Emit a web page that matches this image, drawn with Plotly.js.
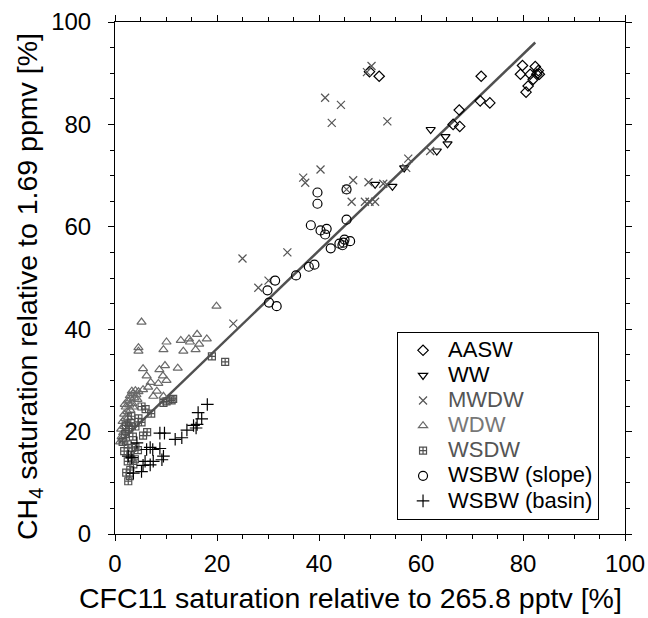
<!DOCTYPE html>
<html>
<head>
<meta charset="utf-8">
<script src="https://cdn.plot.ly/plotly-3.0.1.min.js"></script>
<style>
html,body{margin:0;padding:0;background:#fff;}
#chart{width:648px;height:618px;}
</style>
</head>
<body>
<div id="chart"></div>
<script>
// ---- data ----
var aaswX = [79.9,82.4,79.5,81.4,82.7,83.2,83.0,82.0,81.0,80.6,71.8,71.6,73.5,67.5,66.3,67.6,49.9,51.8];
var aaswY = [91.5,91.3,89.8,89.8,89.8,89.8,90.5,88.8,87.5,86.3,89.4,84.6,84.2,82.8,80.0,79.6,90.3,89.4];

var wwX = [61.9,64.8,65.2,63.1,56.7,54.4,51.0];
var wwY = [79.0,77.6,76.2,74.8,71.5,67.9,68.3];

var mwdwX = [50.3,49.4,41.2,44.3,42.5,53.4,40.3,36.9,37.3,46.7,49.7,57.5,57.1,61.8,52.6,53.3,46.4,49.0,49.9,51.0,45.4,25.0,33.8,30.1,28.1,23.2];
var mwdwY = [91.4,90.2,85.2,83.8,80.3,80.6,71.2,69.6,68.6,69.1,68.7,73.3,71.5,74.8,68.4,68.3,64.9,64.9,64.9,64.9,67.3,53.8,55.0,49.5,48.1,41.1];

var wdwX = [19.9,5.2,4.6,4.6,10.1,9.5,12.9,14.5,14.7,16.1,18.0,16.5,13.4,15.8,5.5,6.2,8.7,9.8,12.3,9.4,10.1,7.0,8.5,5.5,6.5,7.5,9.5,8.2,
            1.0,1.3,1.6,1.2,1.8,2.2,1.5,2.0,2.6,1.8,2.4,3.0,2.1,2.8,3.4,2.5,3.1,3.8,2.9,3.5,4.2,3.3,4.0,4.6,2.3,1.5,3.6,4.4,1.9,2.7];
var wdwY = [44.5,41.4,36.4,35.7,37.5,36.0,37.8,38.1,37.5,39.0,38.1,37.1,35.7,36.0,32.3,30.9,32.1,32.9,32.4,30.9,30.0,29.6,29.4,28.2,28.7,26.9,26.9,27.9,
            18.0,19.0,19.8,20.5,21.0,21.6,22.0,22.6,22.8,23.4,23.9,24.2,24.8,25.2,25.5,26.0,26.4,26.6,27.0,27.4,27.2,27.9,28.0,27.8,20.2,18.8,24.8,26.3,25.3,21.4];

var wsdwX = [19.0,21.6,11.4,9.5,10.1,11.1,7.1,6.0,6.3,5.2,3.1,2.6,2.9,5.2,
             2.0,3.5,2.5,4.0,1.8,3.0,2.5,3.6,3.0,4.5,5.5,3.2,4.0,1.5,2.8,3.9,2.2,4.6,3.4,2.1];
var wsdwY = [34.7,33.6,26.4,25.6,25.9,26.1,23.5,24.4,19.9,21.8,21.7,10.3,11.3,24.9,
             19.5,19.0,17.5,17.0,16.2,15.5,14.2,13.6,12.5,16.4,19.2,23.0,21.0,18.0,20.6,14.6,12.0,22.6,16.8,21.2];

var slopeX = [39.7,39.7,45.4,45.4,38.4,40.3,41.5,41.2,42.3,44.0,44.8,45.0,46.1,44.6,39.1,38.0,35.5,31.4,29.9,30.2,31.7];
var slopeY = [66.7,64.5,67.3,61.4,60.3,59.3,59.6,58.5,55.8,56.7,56.9,57.5,57.2,56.4,52.6,52.2,50.5,49.5,47.6,45.2,44.5];

var basinX = [18.1,16.3,17.0,16.1,15.9,15.4,14.1,13.1,11.8,8.8,9.7,8.8,6.2,7.4,9.5,9.2,7.5,6.9,5.5,5.9,4.3,3.3,5.2,3.6,2.6,6.9];
var basinY = [25.3,23.7,22.5,21.4,20.7,21.2,20.3,18.8,18.5,19.7,19.7,16.7,16.5,16.5,15.2,14.5,14.2,13.5,13.4,14.2,17.8,14.9,12.2,11.9,15.2,16.9];

var fitX = [0.8, 82.4];
var fitY = [17.8, 96.0];

var names = ['AASW','WW','MWDW','WDW','WSDW','WSBW (slope)','WSBW (basin)'];
var nameColors = ['#000000','#000000','#555555','#777777','#555555','#000000','#000000'];
var xTicks = [0,20,40,60,80,100];
var yTicks = [0,20,40,60,80,100];
var xTitle = 'CFC11 saturation relative to 265.8 pptv [%]';
var yTitle = 'CH<sub>4</sub> saturation relative to 1.69 ppmv [%]';

function lab(i){
  return '<span style="font-size:22px;fill:' + nameColors[i] + '">' + names[i] + '</span>';
}
function pts(x, y, i, symbol, size, color){
  return {
    type:'scatter', mode:'markers', x:x, y:y, name:lab(i),
    marker:{symbol:symbol, size:size, color:color, line:{color:color, width:1.2}},
    cliponaxis:false
  };
}

var traces = [
  {type:'scatter', mode:'lines', x:fitX, y:fitY, showlegend:false,
   line:{color:'#505050', width:2.5}, hoverinfo:'skip'},
  pts(aaswX, aaswY, 0, 'diamond-open', 8, '#000000'),
  pts(wwX, wwY, 1, 'triangle-down-open', 8, '#000000'),
  pts(mwdwX, mwdwY, 2, 'x-thin-open', 8, '#555555'),
  pts(wdwX, wdwY, 3, 'triangle-up-open', 8, '#6a6a6a'),
  pts(wsdwX, wsdwY, 4, 'square-cross-open', 7, '#505050'),
  pts(slopeX, slopeY, 5, 'circle-open', 9, '#000000'),
  pts(basinX, basinY, 6, 'cross-thin-open', 9, '#000000')
];

var axisCommon = {
  showgrid:false, zeroline:false, showline:true, linecolor:'#000', linewidth:1,
  mirror:'ticks', ticks:'outside', ticklen:6, tickwidth:1, tickcolor:'#000',
  tickfont:{size:24, color:'#000', family:'Liberation Sans, Arial, sans-serif'},
  range:[0,100], tickmode:'array',
  minor:{dtick:5, ticks:'outside', ticklen:4, tickwidth:1, tickcolor:'#000', showgrid:false},
  fixedrange:true, automargin:false
};

var titleFont = {size:28.5, color:'#000', family:'Liberation Sans, Arial, sans-serif'};

var layout = {
  width:648, height:618,
  margin:{l:115, r:23, t:22, b:84, pad:0},
  paper_bgcolor:'#fff', plot_bgcolor:'#fff',
  font:{family:'Liberation Sans, Arial, sans-serif', color:'#000'},
  showlegend:true,
  xaxis:Object.assign({}, axisCommon, {
    tickvals:xTicks, ticktext:xTicks.map(String), ticklabelstandoff:2
  }),
  yaxis:Object.assign({}, axisCommon, {
    tickvals:yTicks, ticktext:yTicks.map(String), ticklabelstandoff:12
  }),
  annotations:[{
    text:xTitle, xref:'paper', yref:'paper', x:0.461, y:-0.089,
    xanchor:'center', yanchor:'top', showarrow:false, font:titleFont
  },{
    text:yTitle, xref:'paper', yref:'paper', x:-0.17, y:0.483,
    xanchor:'center', yanchor:'middle', showarrow:false, textangle:-90, font:titleFont
  }],
  legend:{
    x:0.553, y:0.395, xanchor:'left', yanchor:'top',
    bgcolor:'#fff', bordercolor:'#000', borderwidth:1,
    font:{size:17, color:'#000', family:'Liberation Sans, Arial, sans-serif'},
    itemwidth:40, tracegroupgap:0
  }
};

Plotly.newPlot('chart', traces, layout, {displayModeBar:false, staticPlot:true});
</script>
</body>
</html>
